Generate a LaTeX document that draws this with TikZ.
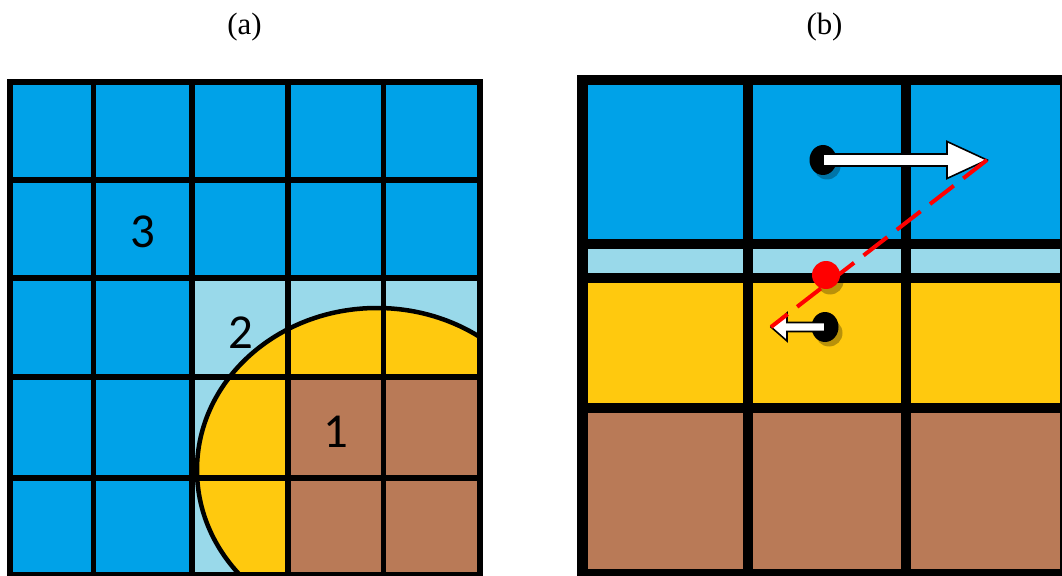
\documentclass[tikz,border=0pt]{standalone}
\usepackage{fontspec}
\setmainfont{Liberation Serif}
\newfontfamily\digitfont{Carlito}
\usetikzlibrary{calc}
\definecolor{blueA}{RGB}{0,162,232}
\definecolor{lblueA}{RGB}{153,217,234}
\definecolor{yellowA}{RGB}{255,201,14}
\definecolor{brownA}{RGB}{185,122,87}
\tikzset{
  gridline/.style={line width=5.5bp, black},
  title/.style={font=\fontsize{31}{37}\selectfont, inner sep=0pt},
  digit/.style={font=\digitfont\fontsize{49}{57}\selectfont, inner sep=0pt},
  warrow/.style={fill=white, draw=black, line width=1.6bp, line join=miter},
  dotshadow/.style={fill=black, opacity=0.28},
  reddash/.style={red, line width=4bp, dash pattern=on 30bp off 12bp}
}
\begin{document}
\begin{tikzpicture}[x=1bp,y=-1bp]
\useasboundingbox (0,0) rectangle (1062,576);
% titles
\node[title] (ta) at (244.5,27) {(a)};
\node[title] (tb) at (824.5,27) {(b)};
% ---------------- panel (a)
\fill[blueA] (10,82) rectangle (480,576);
\fill[lblueA] (192,278) rectangle (480,576);
\begin{scope}
  \clip (192,278) rectangle (480,576);
  \filldraw[fill=yellowA, draw=black, line width=4.5bp] (377,470) ellipse [x radius=180, y radius=162];
\end{scope}
\fill[brownA] (288,377) rectangle (480,576);
\foreach \x in {93.5,192,288,383.5} \draw[gridline] (\x,82) -- (\x,576);
\foreach \y in {180,278,377,478} \draw[gridline] (10,\y) -- (480,\y);
\draw[line width=6bp] (10,82) -- (10,578) (7,82) -- (483,82) (480,82) -- (480,578) (7,575) -- (483,575);
\node[digit] (n3) at (143,232) {3};
\node[digit] (n2) at (241,333) {2};
\node[digit] (n1) at (336,432) {1};
% ---------------- panel (b)
\fill[black] (577,75) rectangle (1062,576);
\foreach \xa/\xb in {588/743,753/901,911/1060}{
  \fill[blueA] (\xa,85) rectangle (\xb,239);
  \fill[lblueA] (\xa,249) rectangle (\xb,273);
  \fill[yellowA] (\xa,283) rectangle (\xb,403);
  \fill[brownA] (\xa,413) rectangle (\xb,569);
}
\coordinate (p1) at (823,160);
\coordinate (t1) at (987,160);
\coordinate (p2) at (825,327);
\coordinate (t2) at (771,327);
\coordinate (r) at (826,275);
% shadows
\fill[dotshadow] ([shift={(4,6)}]p1) circle [radius=13.5];
\fill[dotshadow] ([shift={(4,6)}]p2) circle [radius=13.5];
\fill[dotshadow] ([shift={(4,6)}]r) circle [radius=13.5];
% dots
\fill[black] (p1) ellipse [x radius=13.5, y radius=15];
\fill[black] (p2) ellipse [x radius=13.5, y radius=15];
% arrows
\filldraw[warrow] ([shift={(0,-6)}]p1) -- ([shift={(-40,-6)}]t1) -- ([shift={(-40,-18.5)}]t1) -- (t1)
  -- ([shift={(-40,18.5)}]t1) -- ([shift={(-40,6)}]t1) -- ([shift={(0,6)}]p1) -- cycle;
\filldraw[warrow] ([shift={(0,-4.5)}]p2) -- ([shift={(16,-4.5)}]t2) -- ([shift={(16,-14)}]t2) -- (t2)
  -- ([shift={(16,14)}]t2) -- ([shift={(16,4.5)}]t2) -- ([shift={(0,4.5)}]p2) -- cycle;
% red dashed line and red dot
\draw[reddash] (t1) -- (t2);
\fill[red] (r) circle [radius=14];
\end{tikzpicture}
\end{document}
